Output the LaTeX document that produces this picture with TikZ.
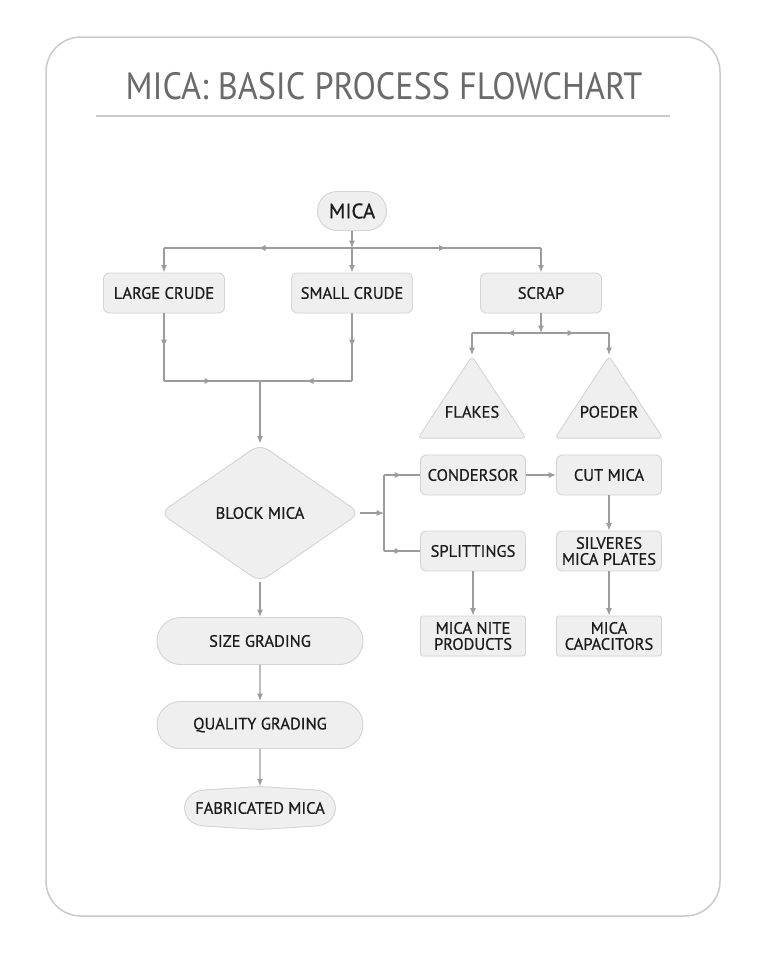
\documentclass[tikz,border=0pt]{standalone}
\usepackage{fontspec}
\setmainfont{PT Sans}
\newfontfamily\titlefont[FakeStretch=0.9]{PT Sans}
\newfontfamily\boxfont[FakeBold=0.6]{PT Sans}
\usetikzlibrary{arrows.meta,shapes.geometric,shapes.misc,decorations.markings}
\definecolor{boxfill}{HTML}{EFEFEF}
\definecolor{boxline}{HTML}{D4D4D4}
\definecolor{flowline}{HTML}{9C9C9C}
\definecolor{textdark}{HTML}{1C1C1C}
\definecolor{titlegray}{HTML}{6A6A6A}
\definecolor{framegray}{HTML}{CACACA}

\begin{document}
\begin{tikzpicture}%
[x=1pt, y=-1pt,%
box/.style={draw=boxline, fill=boxfill, line width=0.9pt, rounded corners=6pt, minimum width=121pt, minimum height=40pt, inner sep=2pt, text=textdark, align=center, font=\boxfont\fontsize{16.5}{16}\selectfont},%
smallbox/.style={box, minimum width=105pt},%
flatbox/.style={smallbox, rounded corners=1.5pt},%
pill/.style={box, rounded rectangle, sharp corners, minimum width=210pt, minimum height=47pt},%
decision/.style={box, diamond, minimum width=200pt, minimum height=138pt, rounded corners=10pt},%
tri/.style={box, isosceles triangle, shape border rotate=90, isosceles triangle stretches, inner sep=0pt, minimum width=108pt, minimum height=82pt, rounded corners=4pt},%
tritext/.style={anchor=base, yshift=21pt, text=textdark, font=\boxfont\fontsize{16.5}{16}\selectfont},%
arr/.style={draw=flowline, line width=1.1pt, -{Latex[length=7.5pt,width=6pt]}},%
mid/.style={draw=flowline, line width=1.1pt, postaction={decorate}, decoration={markings, mark=at position 0.5 with {\arrow{Latex[length=7.5pt,width=6pt]}}}}]

\fill[white] (0,0) rectangle (767,953);
\draw[framegray, line width=1.5pt, rounded corners=35pt] (46,37) rectangle (720,916);
\node[text=titlegray, font=\titlefont\fontsize{38}{38}\selectfont] (title) at (384,86) {MICA: BASIC PROCESS FLOWCHART};
\draw[framegray, line width=1.2pt] (96,116) -- (670,116);

\node[box, rounded rectangle, sharp corners, minimum width=73pt, minimum height=39pt, font=\boxfont\fontsize{21}{21}\selectfont] (mica) at (352,211) {MICA};

\node[box] (lc) at (164,293) {LARGE CRUDE};
\node[box] (sc) at (352,293) {SMALL CRUDE};
\node[box] (scrap) at (541,293) {SCRAP};

\node[tri, anchor=apex, label={[tritext]south:FLAKES}] (flakes) at (472,355) {};
\node[tri, anchor=apex, label={[tritext]south:POEDER}] (poeder) at (609,355) {};

\node[decision] (block) at (260,513) {BLOCK MICA};

\node[smallbox] (cond) at (473,475) {CONDERSOR};
\node[smallbox] (cut) at (609,475) {CUT MICA};
\node[smallbox] (splt) at (473,551) {SPLITTINGS};
\node[smallbox] (silver) at (609,551) {SILVERES\\MICA PLATES};
\node[flatbox] (nite) at (473,636) {MICA NITE\\PRODUCTS};
\node[flatbox] (cap) at (609,636) {MICA\\CAPACITORS};

\node[pill] (size) at (260,641) {SIZE GRADING};
\node[pill] (quality) at (260,725) {QUALITY GRADING};
\draw[draw=boxline, fill=boxfill, line width=0.9pt, shift={(260,808)}] (-56,-18) -- (0,-21.5) -- (56,-18) .. controls (82,-16) and (82,16) .. (56,18) -- (0,21.5) -- (-56,18) .. controls (-82,16) and (-82,-16) .. (-56,-18) -- cycle;
\node[text=textdark, font=\boxfont\fontsize{16.5}{16}\selectfont, minimum width=152pt, minimum height=43pt] (fab) at (260,808) {FABRICATED MICA};

\coordinate (split) at (352,248);
\coordinate (merge) at (260,381);
\coordinate (scrapsplit) at (541,333);
\coordinate (fork) at (384,513);

\draw[arr] (mica) -- (split);
\draw[mid] (split) -- (lc |- split);
\draw[arr] (lc |- split) -- (lc);
\draw[arr] (split) -- (sc);
\draw[mid] (split) -- (scrap |- split);
\draw[arr] (scrap |- split) -- (scrap);

\draw[mid] (lc) -- (lc |- merge);
\draw[mid] (lc |- merge) -- (merge);
\draw[mid] (sc) -- (sc |- merge);
\draw[mid] (sc |- merge) -- (merge);
\draw[arr] (merge) -- (block);

\draw[arr] (scrap) -- (scrapsplit);
\draw[mid] (scrapsplit) -- (flakes.apex |- scrapsplit);
\draw[arr] (flakes.apex |- scrapsplit) -- (flakes.apex);
\draw[mid] (scrapsplit) -- (poeder.apex |- scrapsplit);
\draw[arr] (poeder.apex |- scrapsplit) -- (poeder.apex);

\draw[arr] (block) -- (fork);
\draw[draw=flowline, line width=1.1pt] (cond -| fork) -- (splt -| fork);
\draw[mid] (cond -| fork) -- (cond);
\draw[mid] (splt -| fork) -- (splt);
\draw[arr] (cond) -- (cut);
\draw[arr] (cut) -- (silver);
\draw[arr] (silver) -- (cap);
\draw[arr] (splt) -- (nite);

\draw[arr] (block) -- (size);
\draw[arr] (size) -- (quality);
\draw[arr] (quality) -- (fab);
\end{tikzpicture}
\end{document}
